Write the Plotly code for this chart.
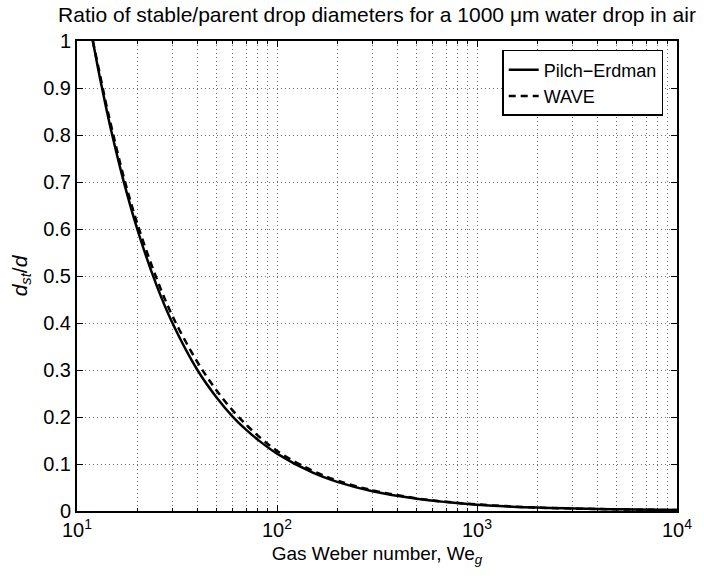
import plotly.graph_objects as go

# Gas Weber number samples
we = [12, 13, 14, 15, 17, 20, 25, 30, 40, 50, 60, 70, 80, 100, 150, 200, 300,
      500, 700, 1000, 2000, 5000, 10000]
# Pilch-Erdman stable/parent diameter ratio
pilch_erdman = [1.0, 0.923, 0.857, 0.80, 0.706, 0.60, 0.48, 0.40, 0.30, 0.241,
                0.201, 0.173, 0.152, 0.122, 0.082, 0.062, 0.042, 0.026, 0.019,
                0.0135, 0.0072, 0.0035, 0.002]
# WAVE model stable/parent diameter ratio
wave = [1.0, 0.93, 0.865, 0.81, 0.716, 0.612, 0.495, 0.415, 0.317, 0.256,
        0.214, 0.184, 0.161, 0.128, 0.086, 0.065, 0.044, 0.027, 0.0195,
        0.014, 0.0073, 0.0035, 0.002]

x_major = [10, 100, 1000, 10000]
x_major_text = ["10<sup>1</sup>", "10<sup>2</sup>", "10<sup>3</sup>", "10<sup>4</sup>"]
x_minor = [m * d for d in (10, 100, 1000) for m in range(2, 10)]

FONT = "Liberation Sans, Arial, Helvetica, sans-serif"

fig = go.Figure()
fig.add_trace(go.Scatter(x=we, y=pilch_erdman, mode="lines", name="Pilch\u2212Erdman",
                         line=dict(color="black", width=2.5, shape="spline")))
fig.add_trace(go.Scatter(x=we, y=wave, mode="lines", name="WAVE",
                         line=dict(color="black", width=2.5, dash="7px,5px", shape="spline")))

grid_col = "#6e6e6e"
fig.update_layout(
    width=704, height=578,
    margin=dict(l=77, r=27, t=41, b=67),
    paper_bgcolor="white", plot_bgcolor="white",
    font=dict(family=FONT, size=20, color="black"),
    title=dict(text="Ratio of stable/parent drop diameters for a 1000 \u03bcm water drop in air",
               x=0.5, xref="paper", xanchor="center",
               y=1 - 15 / 578, yref="container", yanchor="middle",
               font=dict(size=21)),
    showlegend=True,
    legend=dict(x=0.977, y=0.981, xanchor="right", yanchor="top",
                bordercolor="black", borderwidth=1.5, bgcolor="white",
                font=dict(size=18), tracegroupgap=0, itemwidth=30),
    xaxis=dict(type="log", range=[1, 4],
               tickmode="array", tickvals=x_major, ticktext=x_major_text,
               ticks="inside", ticklen=6, tickwidth=1, tickcolor="black",
               showline=True, linecolor="black", linewidth=2, mirror="allticks",
               showgrid=True, gridcolor=grid_col, griddash="1px,3px", gridwidth=1,
               zeroline=False,
               minor=dict(tickmode="array", tickvals=x_minor, ticks="inside", ticklen=3,
                          tickcolor="black", showgrid=True, gridcolor=grid_col,
                          griddash="1px,3px", gridwidth=1),
               title=dict(text="Gas Weber number, We<sub><i>g</i></sub>", standoff=7,
                          font=dict(size=19)),
               tickfont=dict(size=20)),
    yaxis=dict(range=[0, 1], tickmode="linear", tick0=0, dtick=0.1,
               ticks="inside", ticklen=6, tickwidth=1, tickcolor="black",
               showline=True, linecolor="black", linewidth=2, mirror="allticks",
               showgrid=True, gridcolor=grid_col, griddash="1px,3px", gridwidth=1,
               zeroline=False,
               title=dict(text="<i>d</i><sub><i>st</i></sub>/<i>d</i>", standoff=10,
                          font=dict(size=21)),
               tickfont=dict(size=20)),
)

fig.write_html("out.html", config={"displayModeBar": False},
               post_script="document.body.style.margin='0';document.body.style.padding='0';")
